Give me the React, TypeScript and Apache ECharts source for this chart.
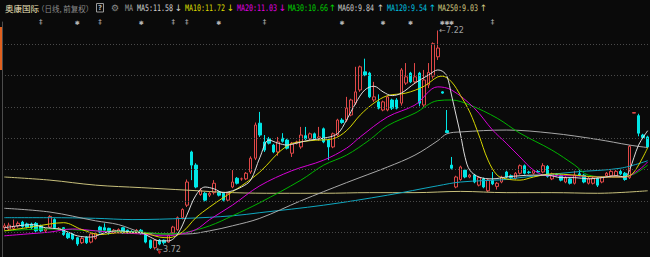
import React, { useEffect, useRef } from "react";
import * as echarts from "echarts";

const stockName = "奥康国际";
const periodNote = "（日线, 前复权）";

const opens = [
  4.07, 4.05, 4.06, 4.10, 4.16, 4.13, 4.13, 4.14, 4.10, 4.02,
  4.08, 4.20, 4.05, 4.07, 3.98, 3.97, 3.91, 3.83, 3.92, 3.84,
  3.90, 4.08, 4.07, 4.06, 3.99, 4.00, 4.07, 4.03, 4.01, 3.99,
  4.03, 3.98, 3.87, 3.75, 3.87, 3.87, 3.84, 3.99, 4.04, 4.23,
  4.43, 5.28, 5.07, 4.60, 4.62, 4.59, 4.63, 4.64, 4.62, 4.51,
  4.72, 4.86, 4.85, 4.85, 4.96, 5.18, 5.74, 5.44, 5.49, 5.39,
  5.28, 5.50, 5.47, 5.26, 5.42, 5.36, 5.54, 5.49, 5.57, 5.49,
  5.65, 5.47, 5.36, 5.55, 5.79, 5.79, 5.87, 6.06, 6.27, 6.56,
  6.54, 6.11, 6.08, 5.95, 5.95, 6.11, 6.11, 6.06, 6.38, 6.54,
  6.40, 6.54, 6.03, 6.35, 6.49, 6.80, 6.24, 5.62, 5.07, 4.72,
  4.84, 4.99, 4.88, 4.91, 4.75, 4.85, 4.66, 4.83, 4.73, 4.80,
  4.96, 4.90, 4.86, 4.94, 5.06, 4.96, 4.94, 4.97, 4.96, 5.05,
  4.85, 4.92, 4.90, 4.80, 4.85, 4.78, 4.93, 4.91, 4.78, 4.78,
  4.86, 4.80, 4.90, 4.90, 4.90, 4.97, 4.94, 4.87, 5.90, 5.86,
  5.55, 5.52,
];
const closes = [
  4.10, 4.11, 4.09, 4.14, 4.09, 4.08, 4.07, 4.02, 4.02, 4.05,
  4.25, 4.07, 4.06, 3.96, 3.91, 3.89, 3.81, 3.90, 3.83, 3.97,
  3.98, 4.00, 4.03, 3.98, 4.03, 4.04, 3.99, 3.99, 4.00, 4.03,
  3.98, 3.84, 3.75, 3.87, 3.81, 3.83, 3.95, 4.08, 4.23, 4.36,
  4.80, 5.07, 4.72, 4.67, 4.51, 4.62, 4.78, 4.59, 4.51, 4.62,
  4.80, 4.78, 4.85, 4.94, 5.18, 5.71, 5.55, 5.31, 5.42, 5.28,
  5.44, 5.45, 5.34, 5.42, 5.44, 5.55, 5.49, 5.57, 5.49, 5.52,
  5.44, 5.36, 5.57, 5.79, 5.75, 5.98, 6.11, 6.24, 6.64, 6.51,
  6.16, 6.16, 5.98, 6.08, 6.16, 5.98, 5.98, 6.59, 6.48, 6.40,
  6.48, 6.06, 6.43, 6.55, 7.01, 6.94, 6.22, 5.59, 5.02, 4.88,
  5.04, 4.88, 4.91, 4.80, 4.87, 4.72, 4.83, 4.77, 4.78, 4.88,
  4.88, 4.87, 4.94, 5.06, 4.94, 4.95, 4.98, 4.96, 5.06, 4.89,
  4.93, 4.91, 4.83, 4.87, 4.78, 4.91, 4.91, 4.80, 4.86, 4.86,
  4.75, 4.87, 4.94, 4.97, 4.97, 4.93, 4.84, 5.37, 5.91, 5.58,
  5.51, 5.36,
];
const lows = [
  4.03, 4.02, 4.03, 4.07, 4.07, 4.06, 4.05, 4.00, 4.00, 3.99,
  4.06, 4.05, 4.03, 3.94, 3.89, 3.87, 3.78, 3.81, 3.81, 3.82,
  3.88, 3.98, 3.98, 3.96, 3.97, 3.98, 3.97, 3.97, 3.98, 3.97,
  3.96, 3.82, 3.73, 3.72, 3.79, 3.80, 3.83, 3.97, 4.02, 4.20,
  4.40, 4.83, 4.70, 4.58, 4.49, 4.56, 4.60, 4.57, 4.49, 4.49,
  4.70, 4.76, 4.82, 4.83, 4.93, 5.15, 5.52, 5.28, 5.40, 5.26,
  5.22, 5.43, 5.32, 5.20, 5.40, 5.33, 5.47, 5.47, 5.47, 5.46,
  5.42, 5.15, 5.34, 5.53, 5.73, 5.76, 5.85, 6.03, 6.24, 6.49,
  6.14, 6.08, 5.96, 5.93, 5.93, 5.95, 5.96, 6.02, 6.35, 6.38,
  6.38, 6.01, 6.00, 6.30, 6.45, 6.75, 6.21, 5.58, 5.00, 4.70,
  4.82, 4.86, 4.86, 4.78, 4.73, 4.70, 4.64, 4.75, 4.68, 4.78,
  4.86, 4.85, 4.84, 4.92, 4.92, 4.93, 4.92, 4.94, 4.94, 4.87,
  4.83, 4.89, 4.81, 4.78, 4.76, 4.76, 4.89, 4.78, 4.76, 4.76,
  4.72, 4.78, 4.88, 4.88, 4.88, 4.91, 4.82, 4.85, 5.90, 5.53,
  5.49, 5.34,
];
const highs = [
  4.14, 4.15, 4.20, 4.17, 4.18, 4.15, 4.15, 4.16, 4.12, 4.07,
  4.27, 4.22, 4.08, 4.08, 4.00, 3.98, 3.92, 3.92, 3.93, 3.98,
  4.00, 4.10, 4.14, 4.07, 4.05, 4.06, 4.08, 4.04, 4.03, 4.05,
  4.05, 3.99, 3.88, 3.88, 3.89, 3.88, 3.96, 4.10, 4.25, 4.38,
  4.84, 5.30, 5.10, 4.70, 4.64, 4.65, 4.83, 4.66, 4.64, 4.64,
  4.99, 4.88, 4.87, 4.96, 5.21, 5.75, 5.92, 5.55, 5.52, 5.41,
  5.52, 5.58, 5.49, 5.44, 5.46, 5.68, 5.68, 5.59, 5.59, 5.68,
  5.67, 5.49, 5.59, 5.81, 5.82, 6.16, 6.13, 6.64, 6.66, 6.77,
  6.56, 6.40, 6.20, 6.10, 6.18, 6.13, 6.14, 6.62, 6.70, 6.56,
  6.70, 6.56, 6.59, 6.70, 7.03, 7.22, 6.25, 5.95, 5.20, 4.90,
  5.06, 5.01, 4.93, 4.93, 4.89, 4.87, 4.85, 4.96, 4.80, 4.90,
  4.98, 4.92, 4.96, 5.08, 5.08, 4.98, 5.00, 4.99, 5.10, 5.07,
  4.95, 4.94, 4.92, 4.89, 4.87, 4.98, 4.99, 4.93, 4.88, 4.88,
  4.88, 4.89, 4.96, 4.99, 4.99, 5.01, 4.96, 5.39, 5.91, 5.89,
  5.57, 5.54,
];

// moving averages as [day index, price]
const ma5 = [
  [0, 4.07], [3, 4.1], [6, 4.12], [9, 4.07], [12, 4.05], [14, 4.0], [16, 3.94], [19, 3.92],
  [22, 3.99], [25, 4.02], [28, 4.0], [30, 3.99], [32, 3.92], [34, 3.86], [36, 3.86], [38, 3.97],
  [40, 4.27], [42, 4.59], [44, 4.72], [46, 4.69], [48, 4.63], [50, 4.66], [52, 4.72], [54, 4.83],
  [56, 5.19], [58, 5.47], [60, 5.42], [62, 5.39], [64, 5.42], [67, 5.47], [70, 5.5], [73, 5.57],
  [75, 5.79], [77, 6.06], [79, 6.27], [81, 6.33], [83, 6.24], [85, 6.18], [87, 6.22], [90, 6.38],
  [93, 6.51], [95, 6.59], [96, 6.57], [97, 6.49], [98, 6.19], [99, 5.87], [100, 5.55], [101, 5.19],
  [102, 4.99], [104, 4.88], [107, 4.85], [110, 4.88], [113, 4.9], [116, 4.91], [119, 4.91], [122, 4.87],
  [125, 4.87], [128, 4.85], [131, 4.87], [134, 4.9], [136, 4.88], [137, 4.99], [139, 5.39], [141, 5.62],
];
const ma10 = [
  [0, 4.02], [5, 4.07], [10, 4.13], [13, 4.15], [17, 4.04], [21, 3.96], [25, 3.99], [30, 3.99],
  [34, 3.92], [36, 3.91], [39, 4.0], [42, 4.23], [45, 4.4], [48, 4.55], [52, 4.74], [56, 4.96],
  [62, 5.38], [67, 5.46], [72, 5.49], [75, 5.62], [78, 5.87], [81, 6.06], [84, 6.18], [88, 6.22],
  [92, 6.33], [95, 6.48], [96, 6.49], [98, 6.4], [100, 6.18], [102, 5.92], [104, 5.55], [106, 5.15],
  [108, 4.91], [110, 4.85], [113, 4.83], [116, 4.88], [120, 4.93], [125, 4.91], [130, 4.88],
  [136, 4.88], [138, 4.96], [141, 5.35],
];
const ma20 = [
  [0, 3.94], [5, 3.97], [10, 4.0], [15, 4.05], [20, 4.02], [25, 3.99], [30, 3.97], [35, 3.94],
  [38, 3.96], [42, 4.04], [45, 4.2], [50, 4.43], [56, 4.74], [63, 4.98], [70, 5.15], [75, 5.34],
  [78, 5.52], [84, 5.84], [90, 6.03], [95, 6.32], [98, 6.27], [103, 5.98], [107, 5.63], [110, 5.42],
  [113, 5.2], [116, 4.99], [119, 4.9], [125, 4.9], [130, 4.88], [136, 4.88], [139, 4.99], [141, 5.12],
];
const ma30 = [
  [0, 4.02], [10, 4.05], [20, 4.02], [30, 4.0], [36, 3.97], [40, 4.0], [45, 4.1], [50, 4.26],
  [56, 4.47], [65, 4.83], [70, 5.07], [75, 5.23], [80, 5.47], [84, 5.7], [90, 5.9], [95, 6.1],
  [98, 6.11], [102, 6.03], [108, 5.82], [113, 5.58], [120, 5.31], [125, 5.07], [128, 4.91],
  [133, 4.88], [137, 4.9], [141, 5.07],
];
const ma60 = [
  [0, 4.38], [10, 4.32], [20, 4.18], [25, 4.12], [30, 4.0], [35, 3.97], [40, 3.97], [45, 4.02],
  [50, 4.1], [56, 4.22], [65, 4.5], [75, 4.79], [84, 5.04], [90, 5.23], [95, 5.46], [97, 5.57],
  [100, 5.6], [110, 5.63], [120, 5.58], [130, 5.48], [137, 5.39], [141, 5.35],
];
const ma120 = [
  [0, 4.23], [10, 4.23], [20, 4.22], [28, 4.2], [40, 4.22], [50, 4.26], [56, 4.31], [70, 4.43],
  [84, 4.59], [95, 4.74], [100, 4.8], [110, 4.84], [113, 4.87], [125, 4.96], [135, 5.02], [141, 5.14],
];
const ma250 = [
  [0, 4.88], [10, 4.83], [20, 4.75], [30, 4.71], [40, 4.67], [50, 4.63], [60, 4.62], [70, 4.62],
  [80, 4.63], [90, 4.63], [100, 4.65], [110, 4.63], [120, 4.63], [130, 4.62], [141, 4.66],
];

const maLegend = [
  { label: "MA5", value: "11.58", trend: "↓" },
  { label: "MA10", value: "11.72", trend: "↓" },
  { label: "MA20", value: "11.03", trend: "↓" },
  { label: "MA30", value: "10.66", trend: "↑" },
  { label: "MA60", value: "9.84", trend: "↑" },
  { label: "MA120", value: "9.54", trend: "↑" },
  { label: "MA250", value: "9.03", trend: "↑" },
];

const gridLevels = [4.0, 4.5, 5.0, 5.5, 6.0, 6.5, 7.0];
const starEvents = [16, 30, 47, 74, 83, 89, 96, 97, 98];
const noteEvents = [8, 21, 37, 40, 57, 107];
const highMark = { index: 95, value: 7.22 };
const lowMark = { index: 33, value: 3.72 };

const Y_MIN = 3.602;
const Y_MAX = 7.356;

const maColors = ["#dcdcdc", "#d6d600", "#d600d6", "#00b400", "#a8a8a8", "#10a8c0", "#c8c07c"];
const legendColors = ["#d0d0d0", "#dcdc00", "#e000e0", "#00d000", "#c8c8c8", "#00c0e0", "#d0c880"];
const legendX = [137, 185, 237, 288, 338, 387, 438];
const arrowX = [178.5, 230.5, 282.5, 332.5, 380.5, 432.5, 483.5];

export default function App() {
  const ref = useRef<HTMLDivElement>(null);

  useEffect(() => {
    if (!ref.current) return;
    document.body.style.margin = "0";
    document.body.style.background = "#0a0a0a";
    const chart = echarts.init(ref.current, null, { renderer: "svg" });
    const cats = opens.map((_, i) => String(i));
    const candles = opens.map((o, i) => [o, closes[i], lows[i], highs[i]]);
    const maSets = [ma5, ma10, ma20, ma30, ma60, ma120, ma250];

    const monoFont = '9px "DejaVu Sans Mono"';
    const graphic: any[] = [
      { type: "rect", shape: { x: 0, y: 27, width: 2, height: 43 }, style: { fill: "#e0601e" } },
      {
        type: "text", x: 5, y: 8,
        style: { text: stockName, fill: "#ece2bc", font: '8.5px "Noto Sans CJK SC"', textVerticalAlign: "middle", verticalAlign: "middle" },
      },
      {
        type: "text", x: 37, y: 8,
        style: { text: periodNote, fill: "#8c8c8c", font: '7.5px "Noto Sans CJK SC"', textVerticalAlign: "middle", verticalAlign: "middle" },
      },
      { type: "rect", shape: { x: 96.5, y: 3.5, width: 7, height: 8.5 }, style: { fill: "none", stroke: "#9a9a9a", lineWidth: 1 } },
      {
        type: "text", x: 100, y: 8,
        style: { text: "?", fill: "#b0b0b0", font: 'bold 7px "DejaVu Sans"', textAlign: "center", align: "center", textVerticalAlign: "middle", verticalAlign: "middle" },
      },
      {
        type: "text", x: 115, y: 7.5,
        style: { text: "⚙", fill: "#8a8a8a", font: '9px "DejaVu Sans"', textAlign: "center", align: "center", textVerticalAlign: "middle", verticalAlign: "middle" },
      },
      {
        type: "text", x: 125, y: 8, scaleX: 0.74,
        style: { text: "MA", fill: "#9a9a9a", font: monoFont, textVerticalAlign: "middle", verticalAlign: "middle" },
      },
    ];
    maLegend.forEach((m, k) => {
      graphic.push({
        type: "text", x: legendX[k], y: 8, scaleX: 0.74,
        style: { text: `${m.label}:${m.value}`, fill: legendColors[k], font: monoFont, textVerticalAlign: "middle", verticalAlign: "middle" },
      });
      graphic.push({
        type: "text", x: arrowX[k], y: 8,
        style: { text: m.trend, fill: legendColors[k], font: '9px "DejaVu Sans"', textAlign: "center", align: "center", textVerticalAlign: "middle", verticalAlign: "middle" },
      });
    });

    const markSeries = (idx: number[], glyph: string, size: number) => ({
      type: "scatter",
      data: idx.map((i) => [i, Y_MAX]),
      symbolSize: 1,
      clip: false,
      silent: true,
      itemStyle: { color: "rgba(0,0,0,0)" },
      label: {
        show: true, position: "inside", offset: [0, -1], formatter: () => glyph,
        color: "#e4e4e4", fontSize: size, fontFamily: "DejaVu Sans",
      },
      labelLayout: { hideOverlap: false },
      z: 6,
    });

    const extremeSeries = (m: { index: number; value: number }) => ({
      type: "scatter",
      data: [[m.index, m.value]],
      symbolSize: 1,
      clip: false,
      silent: true,
      itemStyle: { color: "rgba(0,0,0,0)" },
      label: {
        show: true, position: "right", distance: 1, formatter: () => `←${m.value.toFixed(2)}`,
        color: "#c8c8c8", fontSize: 8, fontFamily: "DejaVu Sans",
      },
      z: 7,
    });

    chart.setOption({
      animation: false,
      backgroundColor: "#0a0a0a",
      grid: { left: 2, right: 0, top: 22, bottom: 0, containLabel: false },
      xAxis: { type: "category", data: cats, boundaryGap: true, show: false },
      yAxis: {
        type: "value", min: Y_MIN, max: Y_MAX, scale: true,
        axisLine: { show: true, lineStyle: { color: "#4c4c4c", width: 1 } },
        axisLabel: { show: false }, axisTick: { show: false }, splitLine: { show: false },
      },
      series: [
        {
          type: "candlestick",
          data: candles,
          barWidth: 3,
          silent: true,
          itemStyle: {
            color: "#0a0a0a", color0: "#00e6e6",
            borderColor: "#e04848", borderColor0: "#00e6e6", borderWidth: 1,
          },
          markLine: {
            silent: true, symbol: ["none", "none"], label: { show: false },
            lineStyle: { color: "#4a4a4a", type: [1, 2], width: 1 },
            data: gridLevels.map((v) => ({ yAxis: v })),
          },
          z: 2,
        },
        ...maSets.map((d, k) => ({
          type: "line",
          data: d,
          symbol: "none",
          showSymbol: false,
          smooth: 0.35,
          silent: true,
          lineStyle: { width: 1, color: maColors[k] },
          z: 4 - k * 0.1,
        })),
        markSeries(starEvents, "✱", 6),
        markSeries(noteEvents, "‡", 7),
        extremeSeries(highMark),
        extremeSeries(lowMark),
        {
          type: "scatter",
          data: [[lowMark.index + 1, 3.64]],
          symbol: "pin",
          symbolSize: 5,
          clip: false,
          silent: true,
          itemStyle: { color: "#e02020" },
          z: 7,
        },
      ],
      graphic,
    });
    return () => chart.dispose();
  }, []);

  return (
    <div
      ref={ref}
      style={{ position: "fixed", left: 0, top: 0, width: 650, height: 257, background: "#0a0a0a" }}
    />
  );
}
